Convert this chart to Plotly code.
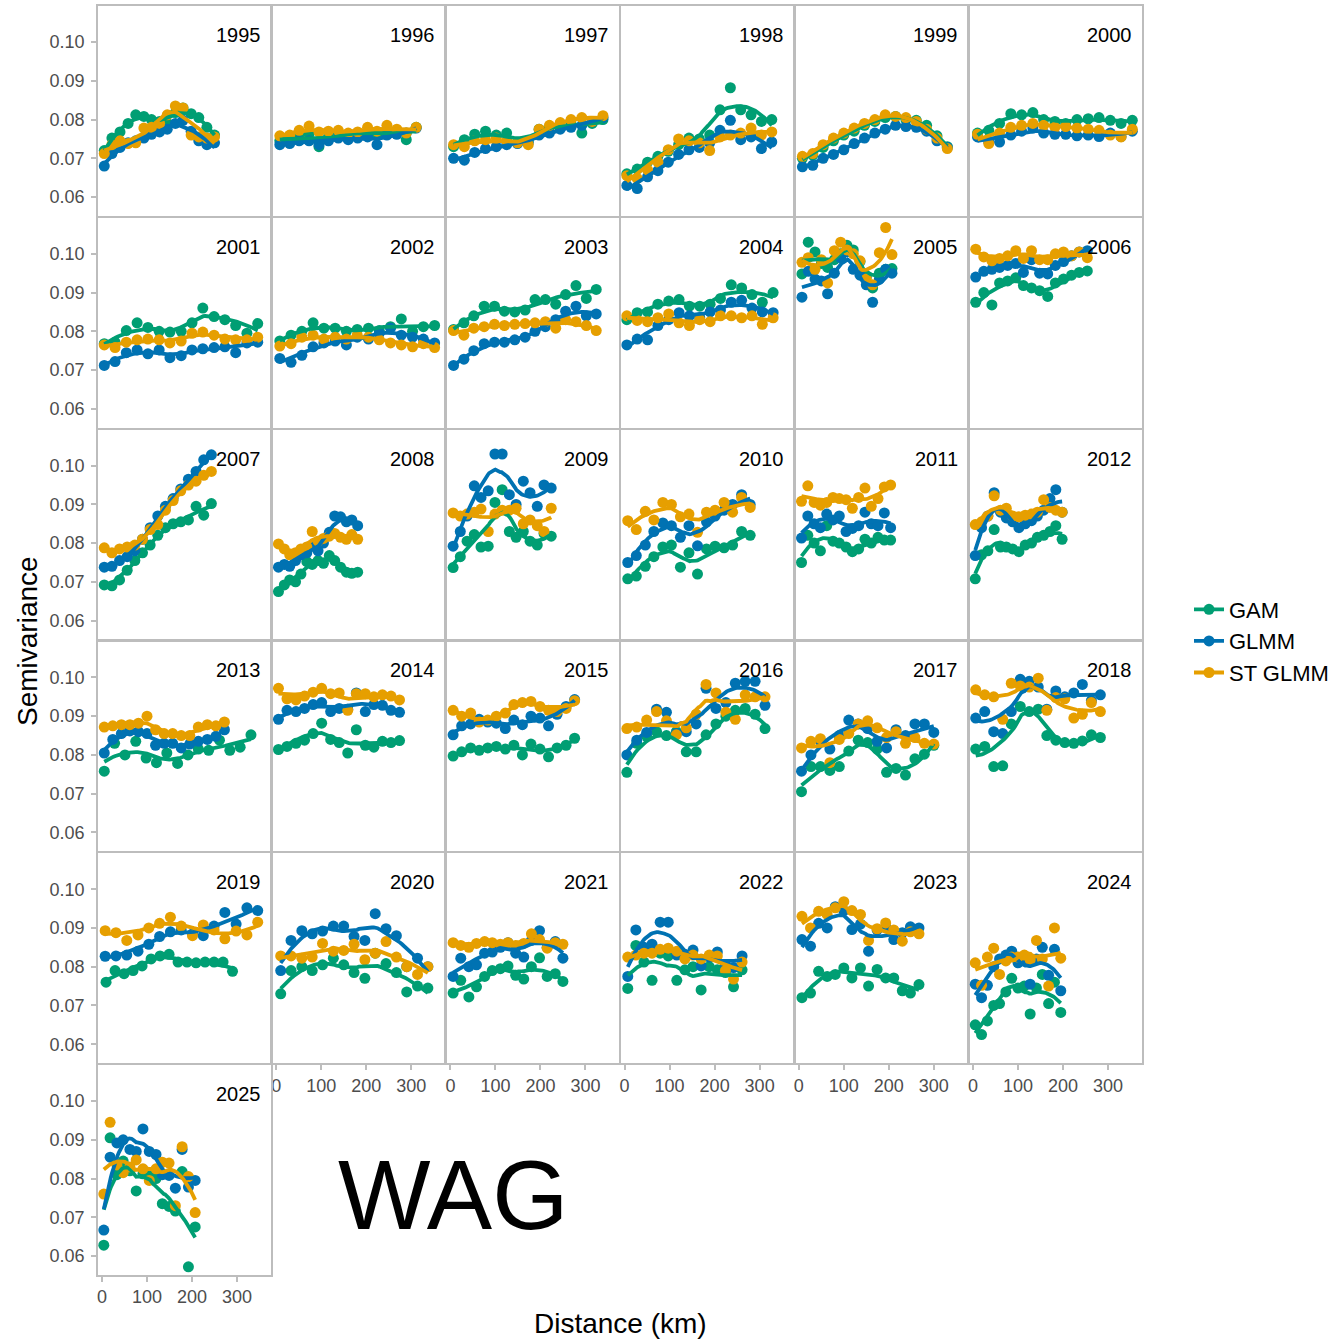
import numpy as np
import plotly.graph_objects as go

W, H = 1344, 1340
FONT = "Liberation Sans, Arial, Helvetica, sans-serif"

YEARS = list(range(1995, 2026))
SERIES = ["GAM", "GLMM", "ST GLMM"]
COLORS = {"GAM": "#009E73", "GLMM": "#0072B2", "ST GLMM": "#E69F00"}

X_TICKS = [0, 100, 200, 300]
Y_TICKS = [0.06, 0.07, 0.08, 0.09, 0.10]
Y_TICK_LABELS = ["0.06", "0.07", "0.08", "0.09", "0.10"]

# distance-bin centres (km) shared by the three models in each year
DIST = {
    1995: [5, 22, 40, 58, 75, 93, 110, 128, 145, 163, 180, 198, 215, 233, 250],
    1996: [8, 30, 51, 73, 95, 116, 138, 160, 181, 203, 224, 246, 268, 289, 311],
    1997: [7, 31, 54, 78, 102, 125, 149, 173, 197, 220, 244, 268, 292, 315, 339],
    1998: [5, 28, 51, 74, 97, 120, 143, 166, 189, 212, 235, 258, 281, 304, 327],
    1999: [8, 31, 54, 77, 100, 123, 146, 169, 192, 215, 238, 261, 284, 307, 330],
    2000: [10, 35, 59, 84, 108, 133, 157, 182, 206, 231, 256, 280, 305, 329, 354],
    2001: [5, 29, 54, 78, 102, 127, 151, 176, 200, 224, 249, 273, 297, 322, 346],
    2002: [8, 33, 57, 82, 106, 131, 156, 180, 205, 229, 254, 278, 303, 327, 352],
    2003: [7, 30, 52, 75, 98, 120, 143, 166, 188, 211, 234, 256, 279, 302, 324],
    2004: [5, 28, 51, 74, 98, 121, 144, 167, 190, 213, 237, 260, 283, 306, 330],
    2005: [7, 21, 36, 50, 64, 79, 93, 107, 121, 136, 150, 164, 179, 193, 207],
    2006: [6, 24, 42, 59, 77, 95, 112, 130, 148, 166, 183, 201, 219, 236, 254],
    2007: [5, 22, 39, 56, 73, 90, 107, 124, 141, 158, 175, 192, 209, 226, 243],
    2008: [5, 18, 30, 43, 55, 68, 80, 93, 105, 118, 130, 143, 156, 168, 181],
    2009: [6, 22, 37, 53, 68, 84, 99, 115, 131, 146, 162, 177, 193, 208, 224],
    2010: [7, 26, 46, 65, 85, 104, 124, 143, 162, 182, 201, 221, 240, 260, 279],
    2011: [6, 20, 34, 48, 62, 76, 90, 105, 119, 133, 147, 161, 176, 190, 204],
    2012: [5, 19, 33, 47, 61, 74, 88, 102, 116, 130, 143, 157, 171, 184, 198],
    2013: [5, 24, 43, 62, 81, 100, 119, 138, 157, 176, 195, 214, 234, 253, 272],
    2014: [5, 24, 44, 63, 82, 101, 121, 140, 159, 178, 198, 217, 236, 255, 274],
    2015: [6, 25, 45, 64, 83, 102, 122, 141, 160, 179, 199, 218, 237, 257, 276],
    2016: [5, 27, 49, 71, 93, 115, 137, 159, 181, 203, 225, 246, 268, 290, 312],
    2017: [6, 27, 48, 69, 90, 111, 132, 153, 174, 195, 216, 237, 258, 279, 300],
    2018: [6, 26, 46, 66, 85, 105, 125, 145, 164, 184, 204, 224, 243, 263, 283],
    2019: [7, 31, 55, 80, 104, 128, 152, 176, 201, 225, 249, 273, 298, 322, 346],
    2020: [10, 33, 57, 80, 103, 127, 150, 173, 197, 220, 244, 267, 290, 314, 337],
    2021: [6, 23, 41, 58, 76, 93, 111, 128, 145, 163, 180, 198, 215, 233, 250],
    2022: [7, 25, 43, 61, 79, 97, 116, 134, 152, 170, 188, 206, 224, 242, 261],
    2023: [7, 26, 44, 63, 81, 100, 118, 137, 155, 174, 193, 211, 230, 248, 267],
    2024: [5, 19, 32, 46, 59, 73, 86, 100, 114, 127, 141, 154, 168, 181, 195],
    2025: [4, 18, 33, 47, 62, 76, 91, 105, 120, 134, 149, 163, 178, 192, 207],
}

# years where the GAM residual variogram used its own distance bins
DIST_GAM = {
    2013: [5, 28, 51, 75, 98, 121, 144, 168, 191, 214, 237, 261, 284, 307, 331],
    2019: [9, 29, 49, 69, 89, 109, 129, 149, 169, 189, 209, 229, 249, 269, 290],
}

GAM = {
    1995: [0.0720, 0.0752, 0.0768, 0.0790, 0.0812, 0.0808, 0.0800, 0.0795, 0.0790, 0.0818, 0.0830, 0.0815, 0.0805, 0.0780, 0.0760],
    1996: [0.0745, 0.0750, 0.0758, 0.0762, 0.0730, 0.0755, 0.0765, 0.0760, 0.0762, 0.0768, 0.0760, 0.0770, 0.0768, 0.0748, 0.0780],
    1997: [0.0730, 0.0748, 0.0762, 0.0770, 0.0760, 0.0765, 0.0740, 0.0745, 0.0775, 0.0780, 0.0785, 0.0790, 0.0765, 0.0790, 0.0800],
    1998: [0.0660, 0.0672, 0.0690, 0.0705, 0.0718, 0.0735, 0.0752, 0.0750, 0.0760, 0.0825, 0.0882, 0.0825, 0.0812, 0.0795, 0.0800],
    1999: [0.0700, 0.0708, 0.0728, 0.0745, 0.0760, 0.0770, 0.0785, 0.0795, 0.0805, 0.0808, 0.0800, 0.0798, 0.0785, 0.0758, 0.0730],
    2000: [0.0765, 0.0772, 0.0790, 0.0815, 0.0812, 0.0818, 0.0800, 0.0795, 0.0790, 0.0800, 0.0802, 0.0805, 0.0798, 0.0790, 0.0798],
    2001: [0.0768, 0.0772, 0.0802, 0.0822, 0.0810, 0.0800, 0.0798, 0.0800, 0.0822, 0.0860, 0.0838, 0.0830, 0.0815, 0.0795, 0.0820],
    2002: [0.0775, 0.0790, 0.0800, 0.0822, 0.0808, 0.0808, 0.0800, 0.0805, 0.0808, 0.0802, 0.0812, 0.0832, 0.0800, 0.0812, 0.0815],
    2003: [0.0805, 0.0822, 0.0840, 0.0865, 0.0865, 0.0852, 0.0850, 0.0855, 0.0882, 0.0882, 0.0870, 0.0895, 0.0918, 0.0885, 0.0908],
    2004: [0.0830, 0.0848, 0.0850, 0.0870, 0.0878, 0.0882, 0.0865, 0.0865, 0.0870, 0.0885, 0.0920, 0.0912, 0.0895, 0.0875, 0.0900],
    2005: [0.0948, 0.1030, 0.1005, 0.0975, 0.0965, 0.0985, 0.1000, 0.1022, 0.1010, 0.0980, 0.0940, 0.0912, 0.0950, 0.0960, 0.0962],
    2006: [0.0875, 0.0900, 0.0868, 0.0925, 0.0930, 0.0938, 0.0918, 0.0912, 0.0905, 0.0890, 0.0925, 0.0935, 0.0945, 0.0952, 0.0956],
    2007: [0.0692, 0.0690, 0.0705, 0.0730, 0.0755, 0.0775, 0.0795, 0.0820, 0.0840, 0.0850, 0.0855, 0.0860, 0.0895, 0.0872, 0.0902],
    2008: [0.0675, 0.0692, 0.0705, 0.0700, 0.0720, 0.0752, 0.0745, 0.0755, 0.0748, 0.0768, 0.0755, 0.0738, 0.0725, 0.0722, 0.0725],
    2009: [0.0737, 0.0765, 0.0805, 0.0822, 0.0790, 0.0792, 0.0905, 0.0938, 0.0830, 0.0815, 0.0830, 0.0805, 0.0795, 0.0825, 0.0818],
    2010: [0.0708, 0.0715, 0.0740, 0.0765, 0.0790, 0.0795, 0.0738, 0.0775, 0.0720, 0.0785, 0.0792, 0.0788, 0.0795, 0.0830, 0.0820],
    2011: [0.0750, 0.0820, 0.0800, 0.0780, 0.0845, 0.0805, 0.0800, 0.0790, 0.0778, 0.0785, 0.0810, 0.0800, 0.0815, 0.0808, 0.0808],
    2012: [0.0708, 0.0770, 0.0780, 0.0835, 0.0790, 0.0790, 0.0785, 0.0778, 0.0795, 0.0800, 0.0815, 0.0820, 0.0830, 0.0845, 0.0810],
    2013: [0.0758, 0.0830, 0.0800, 0.0835, 0.0792, 0.0780, 0.0805, 0.0778, 0.0800, 0.0815, 0.0812, 0.0838, 0.0812, 0.0820, 0.0852],
    2014: [0.0814, 0.0822, 0.0830, 0.0838, 0.0855, 0.0882, 0.0840, 0.0832, 0.0805, 0.0865, 0.0825, 0.0820, 0.0835, 0.0832, 0.0837],
    2015: [0.0797, 0.0808, 0.0818, 0.0812, 0.0818, 0.0822, 0.0815, 0.0825, 0.0800, 0.0828, 0.0815, 0.0795, 0.0818, 0.0825, 0.0843],
    2016: [0.0755, 0.0830, 0.0848, 0.0860, 0.0850, 0.0860, 0.0808, 0.0808, 0.0852, 0.0880, 0.0900, 0.0915, 0.0920, 0.0905, 0.0868],
    2017: [0.0705, 0.0770, 0.0770, 0.0760, 0.0770, 0.0810, 0.0838, 0.0832, 0.0815, 0.0755, 0.0765, 0.0748, 0.0790, 0.0802, 0.0825],
    2018: [0.0815, 0.0822, 0.0770, 0.0772, 0.0880, 0.0925, 0.0912, 0.0918, 0.0850, 0.0838, 0.0832, 0.0830, 0.0836, 0.0852, 0.0845],
    2019: [0.0760, 0.0790, 0.0782, 0.0790, 0.0802, 0.0820, 0.0828, 0.0832, 0.0812, 0.0812, 0.0810, 0.0812, 0.0812, 0.0812, 0.0788],
    2020: [0.0730, 0.0790, 0.0800, 0.0790, 0.0805, 0.0822, 0.0805, 0.0785, 0.0770, 0.0835, 0.0808, 0.0785, 0.0735, 0.0750, 0.0745],
    2021: [0.0732, 0.0765, 0.0722, 0.0748, 0.0775, 0.0790, 0.0795, 0.0802, 0.0778, 0.0768, 0.0800, 0.0823, 0.0775, 0.0782, 0.0762],
    2022: [0.0744, 0.0855, 0.0812, 0.0765, 0.0835, 0.0828, 0.0765, 0.0792, 0.0800, 0.0740, 0.0800, 0.0792, 0.0785, 0.0748, 0.0792],
    2023: [0.0720, 0.0732, 0.0788, 0.0775, 0.0780, 0.0797, 0.0771, 0.0797, 0.0750, 0.0793, 0.0771, 0.0771, 0.0738, 0.0732, 0.0754],
    2024: [0.0650, 0.0625, 0.0660, 0.0700, 0.0705, 0.0735, 0.0770, 0.0745, 0.0750, 0.0678, 0.0745, 0.0780, 0.0705, 0.0760, 0.0682],
    2025: [0.0628, 0.0905, 0.0810, 0.0845, 0.0820, 0.0768, 0.0812, 0.0815, 0.0800, 0.0735, 0.0728, 0.0716, 0.0818, 0.0572, 0.0675],
}

GLMM = {
    1995: [0.0680, 0.0712, 0.0728, 0.0740, 0.0745, 0.0752, 0.0762, 0.0768, 0.0775, 0.0790, 0.0798, 0.0770, 0.0745, 0.0735, 0.0740],
    1996: [0.0735, 0.0738, 0.0745, 0.0745, 0.0735, 0.0745, 0.0752, 0.0748, 0.0752, 0.0755, 0.0735, 0.0760, 0.0762, 0.0765, 0.0778],
    1997: [0.0700, 0.0695, 0.0715, 0.0725, 0.0730, 0.0735, 0.0738, 0.0740, 0.0760, 0.0765, 0.0775, 0.0780, 0.0785, 0.0795, 0.0805],
    1998: [0.0630, 0.0622, 0.0652, 0.0668, 0.0690, 0.0710, 0.0722, 0.0728, 0.0740, 0.0772, 0.0798, 0.0748, 0.0755, 0.0725, 0.0742],
    1999: [0.0678, 0.0682, 0.0700, 0.0710, 0.0722, 0.0738, 0.0752, 0.0765, 0.0775, 0.0785, 0.0782, 0.0780, 0.0770, 0.0745, 0.0728],
    2000: [0.0755, 0.0742, 0.0742, 0.0760, 0.0770, 0.0778, 0.0765, 0.0762, 0.0762, 0.0758, 0.0760, 0.0756, 0.0765, 0.0756, 0.0770],
    2001: [0.0712, 0.0722, 0.0745, 0.0752, 0.0742, 0.0752, 0.0732, 0.0737, 0.0752, 0.0755, 0.0758, 0.0760, 0.0745, 0.0770, 0.0772],
    2002: [0.0730, 0.0720, 0.0738, 0.0760, 0.0770, 0.0775, 0.0765, 0.0785, 0.0780, 0.0795, 0.0808, 0.0790, 0.0785, 0.0780, 0.0770],
    2003: [0.0712, 0.0728, 0.0750, 0.0768, 0.0772, 0.0772, 0.0778, 0.0785, 0.0800, 0.0812, 0.0830, 0.0852, 0.0865, 0.0840, 0.0845],
    2004: [0.0765, 0.0780, 0.0778, 0.0815, 0.0830, 0.0848, 0.0840, 0.0835, 0.0850, 0.0855, 0.0875, 0.0880, 0.0860, 0.0850, 0.0848],
    2005: [0.0888, 0.0955, 0.0935, 0.0930, 0.0897, 0.0950, 0.0990, 0.1005, 0.0960, 0.0945, 0.0920, 0.0875, 0.0935, 0.0960, 0.0950],
    2006: [0.0940, 0.0955, 0.0960, 0.0965, 0.0970, 0.0975, 0.0952, 0.0985, 0.0950, 0.0948, 0.0970, 0.0980, 0.0995, 0.1005, 0.1008],
    2007: [0.0738, 0.0740, 0.0755, 0.0765, 0.0780, 0.0810, 0.0840, 0.0870, 0.0895, 0.0915, 0.0940, 0.0965, 0.0985, 0.1015, 0.1028],
    2008: [0.0738, 0.0745, 0.0740, 0.0755, 0.0770, 0.0775, 0.0795, 0.0780, 0.0800, 0.0828, 0.0870, 0.0868, 0.0855, 0.0860, 0.0845],
    2009: [0.0792, 0.0830, 0.0870, 0.0948, 0.0918, 0.0935, 0.1030, 0.1030, 0.0925, 0.0900, 0.0960, 0.0930, 0.0895, 0.0950, 0.0942],
    2010: [0.0750, 0.0768, 0.0795, 0.0830, 0.0852, 0.0845, 0.0815, 0.0845, 0.0793, 0.0855, 0.0870, 0.0885, 0.0900, 0.0925, 0.0900],
    2011: [0.0813, 0.0870, 0.0850, 0.0840, 0.0875, 0.0860, 0.0870, 0.0830, 0.0838, 0.0845, 0.0880, 0.0850, 0.0845, 0.0878, 0.0840],
    2012: [0.0768, 0.0840, 0.0870, 0.0930, 0.0880, 0.0865, 0.0855, 0.0840, 0.0850, 0.0858, 0.0870, 0.0885, 0.0915, 0.0938, 0.0880],
    2013: [0.0805, 0.0840, 0.0855, 0.0862, 0.0860, 0.0855, 0.0825, 0.0830, 0.0830, 0.0818, 0.0828, 0.0835, 0.0840, 0.0848, 0.0865],
    2014: [0.0892, 0.0915, 0.0912, 0.0920, 0.0930, 0.0935, 0.0912, 0.0920, 0.0918, 0.0960, 0.0912, 0.0930, 0.0928, 0.0915, 0.0910],
    2015: [0.0852, 0.0875, 0.0880, 0.0892, 0.0885, 0.0882, 0.0868, 0.0890, 0.0878, 0.0900, 0.0895, 0.0875, 0.0905, 0.0925, 0.0943],
    2016: [0.0800, 0.0838, 0.0858, 0.0918, 0.0910, 0.0855, 0.0860, 0.0880, 0.0972, 0.0920, 0.0935, 0.0985, 0.0990, 0.0990, 0.0928],
    2017: [0.0758, 0.0800, 0.0835, 0.0815, 0.0850, 0.0890, 0.0880, 0.0868, 0.0835, 0.0818, 0.0865, 0.0850, 0.0880, 0.0880, 0.0858],
    2018: [0.0895, 0.0912, 0.0860, 0.0855, 0.0912, 0.0995, 0.0990, 0.0975, 0.0918, 0.0965, 0.0950, 0.0960, 0.0982, 0.0940, 0.0955],
    2019: [0.0827, 0.0828, 0.0830, 0.0840, 0.0858, 0.0878, 0.0890, 0.0895, 0.0885, 0.0880, 0.0905, 0.0940, 0.0910, 0.0952, 0.0945],
    2020: [0.0790, 0.0868, 0.0893, 0.0885, 0.0892, 0.0905, 0.0905, 0.0878, 0.0868, 0.0937, 0.0898, 0.0880, 0.0800, 0.0822, 0.0800],
    2021: [0.0775, 0.0822, 0.0800, 0.0805, 0.0835, 0.0838, 0.0850, 0.0862, 0.0835, 0.0825, 0.0868, 0.0893, 0.0850, 0.0865, 0.0822],
    2022: [0.0775, 0.0895, 0.0850, 0.0858, 0.0915, 0.0915, 0.0830, 0.0832, 0.0843, 0.0802, 0.0825, 0.0838, 0.0805, 0.0798, 0.0828],
    2023: [0.0870, 0.0853, 0.0912, 0.0900, 0.0955, 0.0945, 0.0896, 0.0910, 0.0840, 0.0895, 0.0902, 0.0870, 0.0888, 0.0903, 0.0900],
    2024: [0.0755, 0.0720, 0.0752, 0.0800, 0.0820, 0.0830, 0.0840, 0.0810, 0.0820, 0.0755, 0.0820, 0.0850, 0.0778, 0.0845, 0.0738],
    2025: [0.0667, 0.0855, 0.0892, 0.0900, 0.0875, 0.0870, 0.0928, 0.0870, 0.0862, 0.0810, 0.0808, 0.0775, 0.0875, 0.0778, 0.0795],
}

ST_GLMM = {
    1995: [0.0712, 0.0735, 0.0745, 0.0738, 0.0740, 0.0778, 0.0780, 0.0790, 0.0812, 0.0835, 0.0830, 0.0760, 0.0755, 0.0752, 0.0755],
    1996: [0.0758, 0.0760, 0.0772, 0.0783, 0.0768, 0.0770, 0.0772, 0.0765, 0.0768, 0.0780, 0.0770, 0.0785, 0.0775, 0.0765, 0.0780],
    1997: [0.0735, 0.0730, 0.0745, 0.0748, 0.0752, 0.0745, 0.0740, 0.0735, 0.0775, 0.0785, 0.0792, 0.0800, 0.0805, 0.0795, 0.0810],
    1998: [0.0655, 0.0648, 0.0670, 0.0690, 0.0722, 0.0750, 0.0745, 0.0740, 0.0720, 0.0755, 0.0760, 0.0765, 0.0778, 0.0760, 0.0768],
    1999: [0.0705, 0.0712, 0.0735, 0.0752, 0.0765, 0.0778, 0.0790, 0.0800, 0.0812, 0.0808, 0.0805, 0.0795, 0.0775, 0.0752, 0.0725],
    2000: [0.0762, 0.0738, 0.0765, 0.0780, 0.0785, 0.0790, 0.0785, 0.0780, 0.0782, 0.0778, 0.0775, 0.0772, 0.0760, 0.0755, 0.0775],
    2001: [0.0765, 0.0758, 0.0772, 0.0778, 0.0780, 0.0778, 0.0770, 0.0775, 0.0795, 0.0798, 0.0790, 0.0780, 0.0778, 0.0778, 0.0785],
    2002: [0.0762, 0.0768, 0.0785, 0.0790, 0.0780, 0.0785, 0.0780, 0.0790, 0.0785, 0.0778, 0.0770, 0.0765, 0.0760, 0.0768, 0.0758],
    2003: [0.0802, 0.0790, 0.0808, 0.0812, 0.0818, 0.0815, 0.0818, 0.0820, 0.0822, 0.0825, 0.0808, 0.0830, 0.0825, 0.0815, 0.0802],
    2004: [0.0840, 0.0828, 0.0825, 0.0835, 0.0845, 0.0822, 0.0815, 0.0830, 0.0825, 0.0840, 0.0840, 0.0835, 0.0840, 0.0818, 0.0835],
    2005: [0.0978, 0.0990, 0.0960, 0.0985, 0.0925, 0.1008, 0.1030, 0.1010, 0.1000, 0.0982, 0.0935, 0.0920, 0.1003, 0.1068, 0.0998],
    2006: [0.1012, 0.0992, 0.0982, 0.0988, 0.0995, 0.1008, 0.0988, 0.1008, 0.0985, 0.0985, 0.1000, 0.1005, 0.0995, 0.1005, 0.0990],
    2007: [0.0788, 0.0775, 0.0785, 0.0790, 0.0795, 0.0810, 0.0835, 0.0848, 0.0885, 0.0910, 0.0935, 0.0950, 0.0960, 0.0975, 0.0985],
    2008: [0.0798, 0.0785, 0.0770, 0.0775, 0.0785, 0.0790, 0.0830, 0.0805, 0.0812, 0.0818, 0.0825, 0.0815, 0.0810, 0.0822, 0.0810],
    2009: [0.0878, 0.0870, 0.0875, 0.0880, 0.0888, 0.0830, 0.0875, 0.0885, 0.0885, 0.0890, 0.0850, 0.0860, 0.0845, 0.0830, 0.0890],
    2010: [0.0858, 0.0835, 0.0882, 0.0860, 0.0905, 0.0900, 0.0868, 0.0875, 0.0828, 0.0880, 0.0885, 0.0905, 0.0880, 0.0918, 0.0892],
    2011: [0.0908, 0.0948, 0.0905, 0.0898, 0.0905, 0.0918, 0.0915, 0.0912, 0.0890, 0.0918, 0.0942, 0.0895, 0.0915, 0.0945, 0.0950],
    2012: [0.0848, 0.0855, 0.0870, 0.0922, 0.0885, 0.0890, 0.0870, 0.0868, 0.0872, 0.0875, 0.0880, 0.0912, 0.0892, 0.0885, 0.0880],
    2013: [0.0872, 0.0875, 0.0878, 0.0878, 0.0882, 0.0900, 0.0865, 0.0855, 0.0855, 0.0850, 0.0850, 0.0872, 0.0878, 0.0875, 0.0885],
    2014: [0.0972, 0.0945, 0.0942, 0.0952, 0.0962, 0.0972, 0.0958, 0.0960, 0.0915, 0.0958, 0.0958, 0.0950, 0.0955, 0.0952, 0.0942],
    2015: [0.0915, 0.0900, 0.0908, 0.0885, 0.0890, 0.0900, 0.0908, 0.0930, 0.0935, 0.0938, 0.0925, 0.0915, 0.0912, 0.0920, 0.0940],
    2016: [0.0868, 0.0872, 0.0890, 0.0912, 0.0888, 0.0852, 0.0870, 0.0905, 0.0982, 0.0960, 0.0910, 0.0892, 0.0955, 0.0950, 0.0950],
    2017: [0.0818, 0.0835, 0.0842, 0.0780, 0.0840, 0.0855, 0.0880, 0.0888, 0.0870, 0.0845, 0.0860, 0.0830, 0.0845, 0.0830, 0.0828],
    2018: [0.0968, 0.0955, 0.0950, 0.0892, 0.0985, 0.0978, 0.0975, 0.0998, 0.0915, 0.0948, 0.0945, 0.0895, 0.0905, 0.0935, 0.0912],
    2019: [0.0893, 0.0888, 0.0868, 0.0882, 0.0900, 0.0912, 0.0928, 0.0905, 0.0880, 0.0908, 0.0895, 0.0872, 0.0892, 0.0882, 0.0915],
    2020: [0.0828, 0.0828, 0.0822, 0.0825, 0.0860, 0.0840, 0.0842, 0.0858, 0.0818, 0.0835, 0.0865, 0.0825, 0.0800, 0.0780, 0.0800],
    2021: [0.0862, 0.0855, 0.0850, 0.0860, 0.0865, 0.0862, 0.0858, 0.0862, 0.0855, 0.0860, 0.0885, 0.0870, 0.0848, 0.0862, 0.0858],
    2022: [0.0825, 0.0830, 0.0835, 0.0835, 0.0845, 0.0848, 0.0840, 0.0820, 0.0830, 0.0820, 0.0830, 0.0828, 0.0790, 0.0768, 0.0812],
    2023: [0.0930, 0.0900, 0.0943, 0.0935, 0.0952, 0.0968, 0.0945, 0.0935, 0.0868, 0.0898, 0.0913, 0.0895, 0.0866, 0.0890, 0.0885],
    2024: [0.0810, 0.0752, 0.0825, 0.0848, 0.0780, 0.0815, 0.0825, 0.0825, 0.0830, 0.0818, 0.0868, 0.0820, 0.0750, 0.0900, 0.0822],
    2025: [0.0760, 0.0945, 0.0835, 0.0815, 0.0830, 0.0848, 0.0825, 0.0795, 0.0825, 0.0842, 0.0840, 0.0730, 0.0882, 0.0805, 0.0712],
}

VALUES = {"GAM": GAM, "GLMM": GLMM, "ST GLMM": ST_GLMM}


def distances(series, year):
    if series == "GAM" and year in DIST_GAM:
        return DIST_GAM[year]
    return DIST[year]


def loess(x, y, span=0.75, n_grid=80):
    """Local quadratic regression with tricube weights (as in R's loess)."""
    x = np.asarray(x, float)
    y = np.asarray(y, float)
    n = len(x)
    q = int(np.floor(n * span))
    grid = np.linspace(x.min(), x.max(), n_grid)
    fit = np.empty_like(grid)
    for i, g in enumerate(grid):
        d = np.abs(x - g)
        h = np.sort(d)[q - 1]
        w = np.clip(1 - (d / h) ** 3, 0, None) ** 3
        X = np.column_stack([np.ones(n), x - g, (x - g) ** 2])
        WX = X * w[:, None]
        beta = np.linalg.lstsq(WX.T @ X, WX.T @ y, rcond=None)[0]
        fit[i] = beta[0]
    return grid, fit


# panel geometry in pixels
COL_LEFT, COL_STEP, PANEL_W = 98.0, 174.2, 173.0
ROW_TOP, ROW_STEP, PANEL_H = 6.0, 211.8, 210.0
X_RANGE = [-8.9, 375.5]
Y_RANGE = [0.0551, 0.1093]
BORDER = "#BDBDBD"
TICK_FONT = dict(family=FONT, size=18, color="#4D4D4D")
MARKER_SIZE = 11
LINE_WIDTH = 3.8

fig = go.Figure()
layout = {}
annotations = []

point_traces, line_traces = [], []
for k, year in enumerate(YEARS):
    r, c = divmod(k, 6)
    ax = k + 1
    xref = "x" if ax == 1 else f"x{ax}"
    yref = "y" if ax == 1 else f"y{ax}"
    left = COL_LEFT + c * COL_STEP
    top = ROW_TOP + r * ROW_STEP

    show_x = (year == 2025) or (r == 4 and c >= 1)
    show_y = c == 0

    layout[f"xaxis{ax}"] = dict(
        domain=[left / W, (left + PANEL_W) / W], range=X_RANGE, anchor=yref,
        showgrid=False, zeroline=False, showline=True, mirror=True,
        linecolor=BORDER, linewidth=1.5,
        tickvals=X_TICKS, showticklabels=show_x, ticks="outside" if show_x else "",
        ticklen=5, tickwidth=1.5, tickcolor=BORDER, tickfont=TICK_FONT,
    )
    layout[f"yaxis{ax}"] = dict(
        domain=[1 - (top + PANEL_H) / H, 1 - top / H], range=Y_RANGE, anchor=xref,
        showgrid=False, zeroline=False, showline=True, mirror=True,
        linecolor=BORDER, linewidth=1.5,
        tickvals=Y_TICKS, ticktext=Y_TICK_LABELS, showticklabels=show_y,
        ticks="outside" if show_y else "", ticklabelstandoff=3,
        ticklen=5, tickwidth=1.5, tickcolor=BORDER, tickfont=TICK_FONT,
    )

    for s in SERIES:
        xs = distances(s, year)
        ys = VALUES[s][year]
        if len(xs) != len(ys):
            raise ValueError(f"{s} {year}: {len(xs)} vs {len(ys)}")
        point_traces.append(go.Scatter(
            x=xs, y=ys, xaxis=xref, yaxis=yref, mode="markers",
            marker=dict(color=COLORS[s], size=MARKER_SIZE, line=dict(width=0)),
            showlegend=False, hoverinfo="skip"))
        gx, gy = loess(xs, ys)
        line_traces.append(go.Scatter(
            x=gx, y=gy, xaxis=xref, yaxis=yref, mode="lines",
            line=dict(color=COLORS[s], width=LINE_WIDTH),
            showlegend=False, hoverinfo="skip"))

    annotations.append(dict(
        text=str(year), xref="paper", yref="paper",
        x=(left + PANEL_W - 8) / W, y=1 - (top + 29) / H,
        xanchor="right", yanchor="middle", showarrow=False,
        font=dict(family=FONT, size=20, color="black")))

for t in point_traces + line_traces:
    fig.add_trace(t)

# legend keys
for s in SERIES:
    fig.add_trace(go.Scatter(
        x=[None], y=[None], mode="lines+markers", name=s,
        line=dict(color=COLORS[s], width=LINE_WIDTH),
        marker=dict(color=COLORS[s], size=MARKER_SIZE)))

annotations += [
    dict(text="WAG", xref="paper", yref="paper", x=453 / W, y=1 - 1195 / H,
         xanchor="center", yanchor="middle", showarrow=False,
         font=dict(family=FONT, size=98, color="black")),
    dict(text="Semivariance", xref="paper", yref="paper", x=27 / W, y=1 - 641 / H,
         xanchor="center", yanchor="middle", textangle=-90, showarrow=False,
         font=dict(family=FONT, size=28, color="black")),
    dict(text="Distance (km)", xref="paper", yref="paper", x=620 / W, y=1 - 1323 / H,
         xanchor="center", yanchor="middle", showarrow=False,
         font=dict(family=FONT, size=28, color="black")),
]

fig.update_layout(
    width=W, height=H, margin=dict(l=0, r=0, t=0, b=0),
    paper_bgcolor="white", plot_bgcolor="white",
    font=dict(family=FONT),
    annotations=annotations,
    legend=dict(x=1189 / W, y=1 - 641 / H, xanchor="left", yanchor="middle",
                font=dict(family=FONT, size=22, color="black"),
                bgcolor="rgba(0,0,0,0)", itemwidth=30, tracegroupgap=0),
    **layout,
)

fig.write_html("out.html")
